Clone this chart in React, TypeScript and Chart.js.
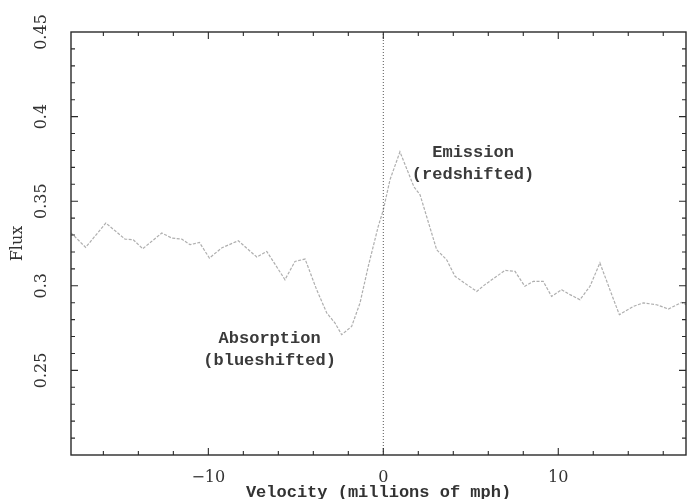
import React, { useEffect, useRef } from "react";
import { Chart, registerables } from "chart.js";

Chart.register(...registerables);

// Spectrum: velocity (millions of mph) vs flux
const velocity = [
  -17.85, -17.01, -15.86, -14.76, -14.29, -13.75, -12.66, -12.09, -11.52, -11.05,
  -10.51, -9.94, -9.22, -8.29, -7.23, -6.66, -5.62, -5.05, -4.47, -3.81,
  -3.23, -2.76, -2.38, -1.81, -1.33, -0.86, -0.29, 0.0, 0.38, 0.95,
  1.75, 2.1, 3.05, 3.62, 4.1, 4.77, 5.34, 5.81, 6.48, 6.95,
  7.53, 8.09, 8.57, 9.14, 9.62, 10.19, 10.67, 11.24, 11.81, 12.38,
  12.95, 13.49, 14.29, 14.86, 15.62, 16.29, 17.05, 17.64,
];
const flux = [
  0.3313, 0.3227, 0.3371, 0.3276, 0.3272, 0.3219, 0.3312, 0.3282, 0.3276, 0.3243,
  0.3256, 0.3164, 0.3225, 0.3266, 0.317, 0.3203, 0.3036, 0.3144, 0.3158, 0.2977,
  0.2839, 0.278, 0.2711, 0.276, 0.2899, 0.3115, 0.3351, 0.3449, 0.3626, 0.3792,
  0.3585, 0.3538, 0.3213, 0.3154, 0.3056, 0.3007, 0.2967, 0.3007, 0.3056, 0.3091,
  0.3085, 0.2997, 0.3026, 0.3026, 0.2937, 0.2977, 0.2948, 0.2918, 0.2997, 0.3135,
  0.2977, 0.2829, 0.2878, 0.2899, 0.2888, 0.2863, 0.2902, 0.2871,
];

// Axis ranges and ticks
const xRange = [-17.85, 17.3];
const yRange = [0.2, 0.45];
const xMajorTicks = [-10, 0, 10];
const yMajorTicks = [0.2, 0.25, 0.3, 0.35, 0.4, 0.45];
const yLabelledTicks = [0.25, 0.3, 0.35, 0.4, 0.45];
const xMinorStep = 2;
const yMinorStep = 0.01;

// Reference line at zero velocity
const zeroLineX = [0, 0];
const zeroLineY = [0.2, 0.45];

// Annotations (text and anchor in data coordinates)
const annotationText = ["Emission", "(redshifted)", "Absorption", "(blueshifted)"];
const annotationX = [5.13, 5.13, -6.5, -6.5];
const annotationY = [0.3786, 0.3656, 0.2688, 0.2558];

const xTitle = "Velocity (millions of mph)";
const yTitle = "Flux";

const TEXT = "#333";
const SERIF = "'DejaVu Serif', serif";
const MONO = "'Liberation Mono', monospace";

const framePlugin = {
  id: "frameTicks",
  afterDatasetsDraw(chart: any) {
    const { ctx, chartArea, scales } = chart;
    const xs = scales.x;
    const ys = scales.y;
    const { left, right, top, bottom } = chartArea;
    ctx.save();
    ctx.strokeStyle = "#2a2a2a";
    ctx.lineWidth = 1.4;
    ctx.strokeRect(left, top, right - left, bottom - top);
    ctx.lineWidth = 1.1;
    ctx.beginPath();
    // x ticks (inward on bottom and top)
    const xStart = Math.ceil(xRange[0] / xMinorStep) * xMinorStep;
    for (let v = xStart; v <= xRange[1] + 1e-9; v += xMinorStep) {
      const isMajor = xMajorTicks.some((m) => Math.abs(m - v) < 1e-6);
      const len = isMajor ? 7 : 4;
      const px = xs.getPixelForValue(v);
      ctx.moveTo(px, bottom);
      ctx.lineTo(px, bottom - len);
      ctx.moveTo(px, top);
      ctx.lineTo(px, top + len);
    }
    // y ticks (inward on left and right)
    const n = Math.round((yRange[1] - yRange[0]) / yMinorStep);
    for (let i = 1; i < n; i++) {
      const v = yRange[0] + i * yMinorStep;
      const isMajor = yMajorTicks.some((m) => Math.abs(m - v) < 1e-6);
      const len = isMajor ? 7 : 4;
      const py = ys.getPixelForValue(v);
      ctx.moveTo(left, py);
      ctx.lineTo(left + len, py);
      ctx.moveTo(right, py);
      ctx.lineTo(right - len, py);
    }
    ctx.stroke();

    // annotations
    ctx.fillStyle = "#3a3a3a";
    ctx.font = `bold 17px ${MONO}`;
    ctx.textAlign = "center";
    ctx.textBaseline = "middle";
    for (let i = 0; i < annotationText.length; i++) {
      ctx.fillText(
        annotationText[i],
        xs.getPixelForValue(annotationX[i]),
        ys.getPixelForValue(annotationY[i])
      );
    }
    ctx.restore();
  },
};

export default function App() {
  const canvasRef = useRef<HTMLCanvasElement | null>(null);

  useEffect(() => {
    if (!canvasRef.current) return;
    const spectrum = velocity.map((v, i) => ({ x: v, y: flux[i] }));
    const zeroLine = zeroLineX.map((v, i) => ({ x: v, y: zeroLineY[i] }));
    const chart = new Chart(canvasRef.current, {
      type: "line",
      data: {
        datasets: [
          {
            data: zeroLine,
            borderColor: "#555",
            borderWidth: 1,
            borderDash: [1, 2],
            pointRadius: 0,
            tension: 0,
          },
          {
            data: spectrum,
            borderColor: "rgba(130,130,130,0.65)",
            borderWidth: 1.2,
            borderDash: [3, 1.5],
            pointRadius: 0,
            tension: 0,
          },
        ],
      },
      options: {
        animation: false,
        responsive: true,
        maintainAspectRatio: false,
        layout: { padding: { left: 0, right: 6, top: 32, bottom: 0 } },
        plugins: {
          legend: { display: false },
          tooltip: { enabled: false },
        },
        scales: {
          x: {
            type: "linear",
            min: xRange[0],
            max: xRange[1],
            grid: { display: false },
            border: { display: false },
            afterBuildTicks: (scale: any) => {
              scale.ticks = xMajorTicks.map((v) => ({ value: v }));
            },
            afterFit: (scale: any) => {
              scale.height = 44;
            },
            ticks: {
              autoSkip: false,
              maxRotation: 0,
              padding: 5,
              color: TEXT,
              font: { family: SERIF, size: 16 },
              callback: (v: any) => (v < 0 ? "\u2212" + Math.abs(v) : String(v)),
            },
            title: {
              display: true,
              text: xTitle,
              color: TEXT,
              font: { family: MONO, size: 17, weight: "bold", lineHeight: 1 },
              padding: { top: 0, bottom: -2 },
            },
          },
          y: {
            type: "linear",
            min: yRange[0],
            max: yRange[1],
            grid: { display: false },
            border: { display: false },
            afterBuildTicks: (scale: any) => {
              scale.ticks = yLabelledTicks.map((v) => ({ value: v }));
            },
            afterFit: (scale: any) => {
              scale.width = 71;
            },
            ticks: {
              autoSkip: false,
              minRotation: 90,
              maxRotation: 90,
              crossAlign: "center",
              padding: 3,
              color: TEXT,
              font: { family: SERIF, size: 16 },
              callback: (v: any) => String(Number(Number(v).toFixed(2))),
            },
            title: {
              display: true,
              text: yTitle,
              color: TEXT,
              font: { family: SERIF, size: 16 },
              padding: { top: 8, bottom: 0 },
            },
          },
        },
      },
      plugins: [framePlugin],
    } as any);
    return () => chart.destroy();
  }, []);

  return (
    <div style={{ position: "fixed", left: 0, top: 0, width: 692, height: 499, background: "#fff" }}>
      <canvas ref={canvasRef} />
    </div>
  );
}
